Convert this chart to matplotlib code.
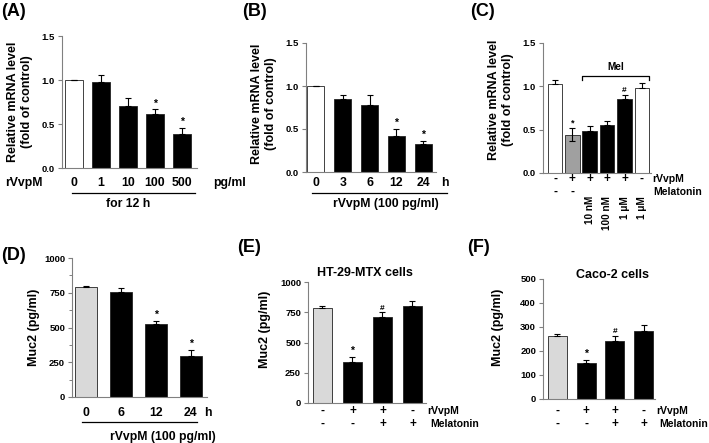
import matplotlib
matplotlib.use("Agg")
import matplotlib.pyplot as plt
import matplotlib.transforms as mtransforms
from matplotlib.lines import Line2D
from matplotlib.ticker import MultipleLocator

plt.rcParams['font.family'] = ['Liberation Sans', 'DejaVu Sans']
plt.rcParams['font.weight'] = 'bold'

W, H = 709, 443

# ---- data ----
# (A) dose, 12 h
a_labels = ["0", "1", "10", "100", "500"]
a_mean = [1.0, 0.98, 0.71, 0.61, 0.385]
a_err = [0.0, 0.08, 0.09, 0.06, 0.075]
a_sig = ["", "", "", "*", "*"]

# (B) time course, 100 pg/ml
b_labels = ["0", "3", "6", "12", "24"]
b_mean = [1.0, 0.85, 0.78, 0.42, 0.33]
b_err = [0.0, 0.04, 0.11, 0.085, 0.035]
b_sig = ["", "", "", "*", "*"]

# (C) melatonin doses
c_rvvpm = ["-", "+", "+", "+", "+", "-"]
c_mel = ["-", "-", "10 nM", "100 nM", "1 \u03bcM", "1 \u03bcM"]
c_mean = [1.03, 0.44, 0.48, 0.55, 0.85, 0.98]
c_err = [0.04, 0.075, 0.06, 0.05, 0.05, 0.06]
c_sig = ["", "*", "", "", "#", ""]

# (D) Muc2 time course
d_labels = ["0", "6", "12", "24"]
d_mean = [790, 752, 522, 297]
d_err = [10, 32, 25, 42]
d_sig = ["", "", "*", "*"]

# (E) HT-29-MTX
e_rvvpm = ["-", "+", "+", "-"]
e_mel = ["-", "-", "+", "+"]
e_mean = [788, 342, 714, 803]
e_err = [11, 40, 36, 42]
e_sig = ["", "*", "#", ""]

# (F) Caco-2
f_rvvpm = ["-", "+", "+", "-"]
f_mel = ["-", "-", "+", "+"]
f_mean = [262, 150, 241, 283]
f_err = [10, 13, 23, 26]
f_sig = ["", "*", "#", ""]

WHITE = "#ffffff"
BLACK = "#000000"
GREY = "#a0a0a0"
LIGHT = "#d9d9d9"
AXC = "#808080"

fig = plt.figure(figsize=(W / 100, H / 100), dpi=100)


def add_ax(left, right, top, bottom):
    return fig.add_axes([left / W, 1 - bottom / H, (right - left) / W, (bottom - top) / H])


def ftext(x, y, s, **kw):
    return fig.text(x / W, 1 - y / H, s, **kw)


def fline(x0, x1, y):
    fig.add_artist(Line2D([x0 / W, x1 / W], [1 - y / H, 1 - y / H],
                          transform=fig.transFigure, color="black", lw=0.9))


def style(ax, ylim, yticks, ylabels, xlim):
    ax.set_xlim(*xlim)
    ax.set_ylim(*ylim)
    ax.set_yticks(yticks)
    ax.set_yticklabels(ylabels, fontsize=6.8, fontweight="bold")
    ax.set_xticks([])
    for s in ["top", "right"]:
        ax.spines[s].set_visible(False)
    for s in ["left", "bottom"]:
        ax.spines[s].set_color(AXC)
        ax.spines[s].set_linewidth(0.8)
    ax.tick_params(axis="y", direction="out", length=3, width=0.8, color=AXC, pad=2)
    ax.tick_params(axis="y", which="minor", direction="out", length=2, width=0.7, color=AXC)


def bars(ax, mean, err, colors, width, sig, low=None, sigsize=7.5):
    x = list(range(len(mean)))
    ax.bar(x, mean, width, color=colors, edgecolor="#222222", linewidth=0.6, zorder=2)
    if low is None:
        low = [0] * len(mean)
    ax.errorbar(x, mean, yerr=[low, err], fmt="none", ecolor="black",
                elinewidth=0.8, capsize=2, capthick=0.8, zorder=3)
    for xi, m, e, s in zip(x, mean, err, sig):
        if s:
            ax.annotate(s, (xi, m + e), xytext=(0, 0.5), textcoords="offset points",
                        ha="center", va="bottom", fontsize=sigsize if s == "*" else 6,
                        fontweight="bold")


def row_text(ax, labels, y, size=8.5, **kw):
    tr = mtransforms.blended_transform_factory(ax.transData, fig.transFigure)
    for i, s in enumerate(labels):
        ax.text(i, 1 - y / H, s, transform=tr, ha="center", va="center",
                fontsize=size, fontweight="bold", **kw)


# ---------------- (A) ----------------
ax = add_ax(62, 197, 36, 168)
bars(ax, a_mean, a_err, [WHITE] + [BLACK] * 4, 0.66, a_sig)
style(ax, (0, 1.5), [0, 0.5, 1.0, 1.5], ["0.0", "0.5", "1.0", "1.5"], (-0.44, 4.56))
row_text(ax, a_labels, 183, size=8.8)
ftext(5, 183, "rVvpM", fontsize=8.8, va="center", ha="left")
ftext(213, 183, "pg/ml", fontsize=8.8, va="center", ha="left")
fline(72, 195, 193)
ftext(128, 204, "for 12 h", fontsize=8.8, va="center", ha="center")
ftext(20, 102, "Relative mRNA level\n(fold of control)", rotation=90, fontsize=9,
      ha="center", va="center", multialignment="center", linespacing=1.3)
ftext(1, 12, "(A)", fontsize=13, va="center", ha="left")

# ---------------- (B) ----------------
ax = add_ax(306, 436, 43, 172)
bars(ax, b_mean, b_err, [WHITE] + [BLACK] * 4, 0.64, b_sig)
style(ax, (0, 1.5), [0, 0.5, 1.0, 1.5], ["0.0", "0.5", "1.0", "1.5"], (-0.37, 4.48))
row_text(ax, b_labels, 183, size=8.8)
ftext(445, 183, "h", fontsize=8.8, va="center", ha="center")
fline(312, 447, 193)
ftext(386, 204, "rVvpM (100 pg/ml)", fontsize=8.8, va="center", ha="center")
ftext(264, 104, "Relative mRNA level\n(fold of control)", rotation=90, fontsize=9,
      ha="center", va="center", multialignment="center", linespacing=1.3)
ftext(242, 12, "(B)", fontsize=13, va="center", ha="left")

# ---------------- (C) ----------------
ax = add_ax(543, 651, 43, 173)
bars(ax, c_mean, c_err, [WHITE, GREY, BLACK, BLACK, BLACK, WHITE], 0.84, c_sig,
     low=[0, 0.075, 0, 0, 0, 0], sigsize=6.5)
style(ax, (0, 1.5), [0, 0.5, 1.0, 1.5], ["0.0", "0.5", "1.0", "1.5"], (-0.69, 5.52))
row_text(ax, c_rvvpm, 179)
tr = mtransforms.blended_transform_factory(ax.transData, fig.transFigure)
for i, s in enumerate(c_mel):
    if s == "-":
        ax.text(i, 1 - 192 / H, s, transform=tr, ha="center", va="center",
                fontsize=8.5, fontweight="bold")
    else:
        ax.text(i, 1 - 196 / H, s, transform=tr, ha="center", va="top",
                rotation=90, fontsize=7.2, fontweight="bold")
ftext(652, 179, "rVvpM", fontsize=7.5, va="center", ha="left")
ftext(653, 192, "Melatonin", fontsize=7.5, va="center", ha="left")
# Mel bracket over the melatonin-treated bars
bx0, bx1 = 2 - 0.45, 5 + 0.42
ax.plot([bx0, bx0, bx1, bx1], [1.07, 1.12, 1.12, 1.07], color="black", lw=0.9,
        clip_on=False)
ax.text((bx0 + bx1) / 2, 1.17, "Mel", ha="center", va="bottom", fontsize=7.2,
        fontweight="bold")
ftext(501, 100, "Relative mRNA level\n(fold of control)", rotation=90, fontsize=9,
      ha="center", va="center", multialignment="center", linespacing=1.3)
ftext(470, 12, "(C)", fontsize=13, va="center", ha="left")

# ---------------- (D) ----------------
ax = add_ax(72, 207, 258, 397)
bars(ax, d_mean, d_err, [LIGHT] + [BLACK] * 3, 0.62, d_sig)
style(ax, (0, 1000), [0, 250, 500, 750, 1000], ["0", "250", "500", "750", "1000"],
      (-0.4, 3.46))
ax.yaxis.set_minor_locator(MultipleLocator(125))
row_text(ax, d_labels, 413, size=8.8)
ftext(208, 413, "h", fontsize=8.8, va="center", ha="center")
fline(82, 197, 422)
ftext(163, 437, "rVvpM (100 pg/ml)", fontsize=8.8, va="center", ha="center")
ftext(34, 327, "Muc2 (pg/ml)", rotation=90, fontsize=9, ha="center", va="center")
ftext(1, 255, "(D)", fontsize=13, va="center", ha="left")

# ---------------- (E) ----------------
ax = add_ax(308, 426, 282, 403)
bars(ax, e_mean, e_err, [LIGHT] + [BLACK] * 3, 0.63, e_sig)
style(ax, (0, 1000), [0, 250, 500, 750, 1000], ["0", "250", "500", "750", "1000"],
      (-0.48, 3.45))
row_text(ax, e_rvvpm, 411)
row_text(ax, e_mel, 424)
ftext(427, 411, "rVvpM", fontsize=7.5, va="center", ha="left")
ftext(430, 424, "Melatonin", fontsize=7.5, va="center", ha="left")
ftext(365, 273, "HT-29-MTX cells", fontsize=9, va="center", ha="center")
ftext(265, 329, "Muc2 (pg/ml)", rotation=90, fontsize=9, ha="center", va="center")
ftext(237, 248, "(E)", fontsize=13, va="center", ha="left")

# ---------------- (F) ----------------
ax = add_ax(543, 655, 279, 399)
bars(ax, f_mean, f_err, [LIGHT] + [BLACK] * 3, 0.66, f_sig)
style(ax, (0, 500), [0, 100, 200, 300, 400, 500],
      ["0", "100", "200", "300", "400", "500"], (-0.5, 3.39))
row_text(ax, f_rvvpm, 411)
row_text(ax, f_mel, 424)
ftext(656, 411, "rVvpM", fontsize=7.5, va="center", ha="left")
ftext(659, 424, "Melatonin", fontsize=7.5, va="center", ha="left")
ftext(612, 275, "Caco-2 cells", fontsize=9, va="center", ha="center")
ftext(498, 327, "Muc2 (pg/ml)", rotation=90, fontsize=9, ha="center", va="center")
ftext(467, 247, "(F)", fontsize=13, va="center", ha="left")

fig.savefig("out.png", dpi=100)
